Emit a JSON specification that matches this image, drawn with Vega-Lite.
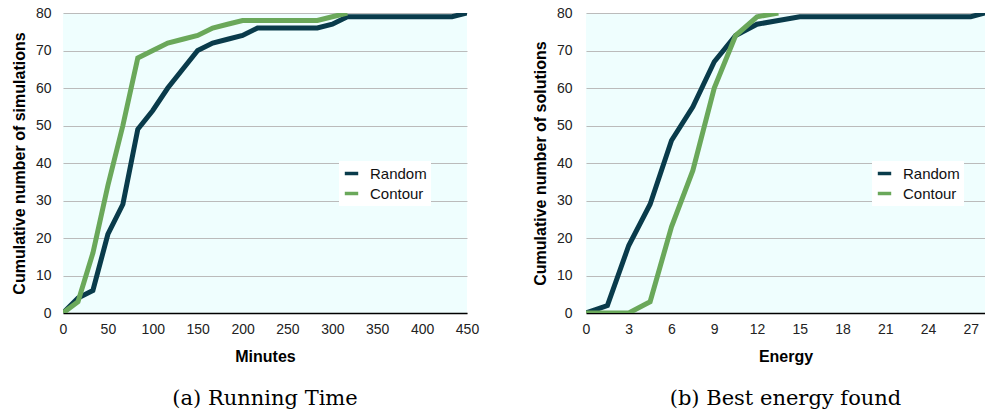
{
  "$schema": "https://vega.github.io/schema/vega-lite/v6.json",
  "background": "white",
  "padding": {"left": 11, "top": 6, "right": 0, "bottom": 0},
  "spacing": 53,
  "config": {
    "font": "Liberation Sans",
    "view": {"fill": "#effefe", "stroke": null},
    "axis": {
      "labelFont": "Liberation Sans",
      "labelFontSize": 14,
      "labelColor": "#222",
      "titleFont": "Liberation Sans",
      "titleFontSize": 16,
      "titleFontWeight": "bold",
      "titleColor": "#000",
      "ticks": false
    },
    "axisX": {"grid": false, "domainColor": "#000", "domainWidth": 1.5, "labelPadding": 9, "titlePadding": 12, "labelFlush": false},
    "axisY": {"domain": false, "gridColor": "#bbbbbb", "gridWidth": 1, "labelPadding": 12, "titlePadding": 8},
    "legend": {
      "orient": "none",
      "title": null,
      "symbolType": "stroke",
      "symbolStrokeWidth": 3.5,
      "symbolSize": 180,
      "labelFont": "Liberation Sans",
      "labelFontSize": 15,
      "labelColor": "#111",
      "fillColor": "white",
      "padding": 4,
      "rowPadding": 3,
      "labelOffset": 10
    },
    "title": {"font": "DejaVu Serif", "fontSize": 21, "fontWeight": "normal", "color": "#000", "orient": "bottom", "offset": 24}
  },
  "datasets": {
    "time": [
      {"minutes": 0, "count": 0, "method": "Random"},
      {"minutes": 16.7, "count": 4, "method": "Random"},
      {"minutes": 33.3, "count": 6, "method": "Random"},
      {"minutes": 50, "count": 21, "method": "Random"},
      {"minutes": 66.7, "count": 29, "method": "Random"},
      {"minutes": 83.3, "count": 49, "method": "Random"},
      {"minutes": 100, "count": 54, "method": "Random"},
      {"minutes": 116.7, "count": 60, "method": "Random"},
      {"minutes": 133.3, "count": 65, "method": "Random"},
      {"minutes": 150, "count": 70, "method": "Random"},
      {"minutes": 166.7, "count": 72, "method": "Random"},
      {"minutes": 183.3, "count": 73, "method": "Random"},
      {"minutes": 200, "count": 74, "method": "Random"},
      {"minutes": 216.7, "count": 76, "method": "Random"},
      {"minutes": 233.3, "count": 76, "method": "Random"},
      {"minutes": 250, "count": 76, "method": "Random"},
      {"minutes": 266.7, "count": 76, "method": "Random"},
      {"minutes": 283.3, "count": 76, "method": "Random"},
      {"minutes": 300, "count": 77, "method": "Random"},
      {"minutes": 316.7, "count": 79, "method": "Random"},
      {"minutes": 333.3, "count": 79, "method": "Random"},
      {"minutes": 350, "count": 79, "method": "Random"},
      {"minutes": 366.7, "count": 79, "method": "Random"},
      {"minutes": 383.3, "count": 79, "method": "Random"},
      {"minutes": 400, "count": 79, "method": "Random"},
      {"minutes": 416.7, "count": 79, "method": "Random"},
      {"minutes": 433.3, "count": 79, "method": "Random"},
      {"minutes": 450, "count": 80, "method": "Random"},
      {"minutes": 0, "count": 0, "method": "Contour"},
      {"minutes": 16.7, "count": 3, "method": "Contour"},
      {"minutes": 33.3, "count": 16, "method": "Contour"},
      {"minutes": 50, "count": 34, "method": "Contour"},
      {"minutes": 66.7, "count": 50, "method": "Contour"},
      {"minutes": 83.3, "count": 68, "method": "Contour"},
      {"minutes": 100, "count": 70, "method": "Contour"},
      {"minutes": 116.7, "count": 72, "method": "Contour"},
      {"minutes": 133.3, "count": 73, "method": "Contour"},
      {"minutes": 150, "count": 74, "method": "Contour"},
      {"minutes": 166.7, "count": 76, "method": "Contour"},
      {"minutes": 183.3, "count": 77, "method": "Contour"},
      {"minutes": 200, "count": 78, "method": "Contour"},
      {"minutes": 216.7, "count": 78, "method": "Contour"},
      {"minutes": 233.3, "count": 78, "method": "Contour"},
      {"minutes": 250, "count": 78, "method": "Contour"},
      {"minutes": 266.7, "count": 78, "method": "Contour"},
      {"minutes": 283.3, "count": 78, "method": "Contour"},
      {"minutes": 300, "count": 79, "method": "Contour"},
      {"minutes": 316.7, "count": 80, "method": "Contour"}
    ],
    "energy": [
      {"energy": 0, "count": 0, "method": "Random"},
      {"energy": 1.5, "count": 2, "method": "Random"},
      {"energy": 3, "count": 18, "method": "Random"},
      {"energy": 4.5, "count": 29, "method": "Random"},
      {"energy": 6, "count": 46, "method": "Random"},
      {"energy": 7.5, "count": 55, "method": "Random"},
      {"energy": 9, "count": 67, "method": "Random"},
      {"energy": 10.5, "count": 74, "method": "Random"},
      {"energy": 12, "count": 77, "method": "Random"},
      {"energy": 13.5, "count": 78, "method": "Random"},
      {"energy": 15, "count": 79, "method": "Random"},
      {"energy": 16.5, "count": 79, "method": "Random"},
      {"energy": 18, "count": 79, "method": "Random"},
      {"energy": 19.5, "count": 79, "method": "Random"},
      {"energy": 21, "count": 79, "method": "Random"},
      {"energy": 22.5, "count": 79, "method": "Random"},
      {"energy": 24, "count": 79, "method": "Random"},
      {"energy": 25.5, "count": 79, "method": "Random"},
      {"energy": 27, "count": 79, "method": "Random"},
      {"energy": 28, "count": 80, "method": "Random"},
      {"energy": 0, "count": 0, "method": "Contour"},
      {"energy": 1.5, "count": 0, "method": "Contour"},
      {"energy": 3, "count": 0, "method": "Contour"},
      {"energy": 4.5, "count": 3, "method": "Contour"},
      {"energy": 6, "count": 23, "method": "Contour"},
      {"energy": 7.5, "count": 38, "method": "Contour"},
      {"energy": 9, "count": 60, "method": "Contour"},
      {"energy": 10.5, "count": 74, "method": "Contour"},
      {"energy": 12, "count": 79, "method": "Contour"},
      {"energy": 13.5, "count": 80, "method": "Contour"}
    ]
  },
  "hconcat": [
    {
      "width": 404,
      "height": 300,
      "title": "(a) Running Time",
      "data": {"name": "time"},
      "mark": {"type": "line", "strokeWidth": 5, "strokeJoin": "miter", "strokeCap": "butt", "clip": true},
      "encoding": {
        "x": {"field": "minutes", "type": "quantitative", "title": "Minutes",
              "scale": {"domain": [0, 450], "nice": false},
              "axis": {"values": [0, 50, 100, 150, 200, 250, 300, 350, 400, 450]}},
        "y": {"field": "count", "type": "quantitative", "title": "Cumulative number of simulations",
              "scale": {"domain": [0, 80], "nice": false},
              "axis": {"values": [0, 10, 20, 30, 40, 50, 60, 70, 80]}},
        "color": {"field": "method", "type": "nominal",
                  "scale": {"domain": ["Random", "Contour"], "range": ["#093b4b", "#6aa85a"]},
                  "legend": {"legendX": 276, "legendY": 148}}
      }
    },
    {
      "width": 399,
      "height": 300,
      "title": "(b) Best energy found",
      "data": {"name": "energy"},
      "mark": {"type": "line", "strokeWidth": 5, "strokeJoin": "miter", "strokeCap": "butt", "clip": true},
      "encoding": {
        "x": {"field": "energy", "type": "quantitative", "title": "Energy",
              "scale": {"domain": [0, 28], "nice": false},
              "axis": {"values": [0, 3, 6, 9, 12, 15, 18, 21, 24, 27]}},
        "y": {"field": "count", "type": "quantitative", "title": "Cumulative number of solutions",
              "scale": {"domain": [0, 80], "nice": false},
              "axis": {"values": [0, 10, 20, 30, 40, 50, 60, 70, 80], "labelPadding": 14}},
        "color": {"field": "method", "type": "nominal",
                  "scale": {"domain": ["Random", "Contour"], "range": ["#093b4b", "#6aa85a"]},
                  "legend": {"legendX": 286, "legendY": 148}}
      }
    }
  ],
  "resolve": {"legend": {"color": "independent"}}
}
